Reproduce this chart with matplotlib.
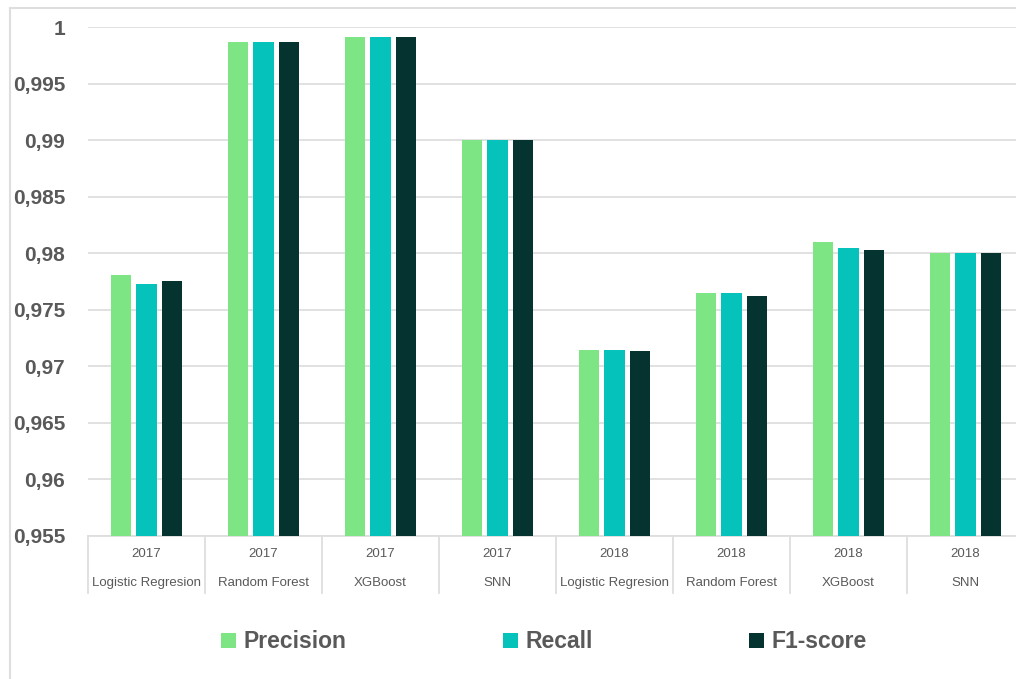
import numpy as np
import matplotlib
matplotlib.use("Agg")
from matplotlib import pyplot as plt
from matplotlib.patches import Rectangle, Patch
from matplotlib.lines import Line2D
from matplotlib.ticker import FuncFormatter

years = ["2017", "2017", "2017", "2017", "2018", "2018", "2018", "2018"]
models = ["Logistic Regresion", "Random Forest", "XGBoost", "SNN",
          "Logistic Regresion", "Random Forest", "XGBoost", "SNN"]
precision = [0.97805, 0.9987, 0.9991, 0.990, 0.97148, 0.97646, 0.98097, 0.980]
recall = [0.97726, 0.9987, 0.9991, 0.990, 0.97148, 0.97646, 0.98044, 0.980]
f1_score = [0.97758, 0.9987, 0.9991, 0.990, 0.97139, 0.97626, 0.98027, 0.980]
series_names = ["Precision", "Recall", "F1-score"]
colors = ["#7DE584", "#05C3BA", "#043330"]

GREY = "#595959"
LINE = "#DEDEDE"


def comma_fmt(v, pos):
    return f"{v:g}".replace(".", ",")


def main():
    fig = plt.figure(figsize=(10.16, 6.79), dpi=100)
    # outer chart border (cropped at right and bottom in the reference)
    fig.patches.append(Rectangle((9.5 / 1016, -0.1), 1.2, 1 - 8.5 / 679 + 0.1,
                                 transform=fig.transFigure, fill=False,
                                 edgecolor=LINE, lw=1.5))

    ax = fig.add_axes([88 / 1016, 1 - 536 / 679, (1024 - 88) / 1016, (536 - 27.3) / 679])

    x = np.arange(len(models))
    width = 0.171
    step = 0.222
    for i, (vals, name) in enumerate(zip([precision, recall, f1_score], series_names)):
        ax.bar(x + (i - 1) * step, vals, width, color=colors[i], label=name, zorder=3)

    ax.set_xlim(-0.5, len(models) - 0.5)
    ax.set_ylim(0.955, 1.0)
    ax.set_yticks(np.arange(0.955, 1.0001, 0.005))
    ax.yaxis.set_major_formatter(FuncFormatter(comma_fmt))
    ax.yaxis.grid(True, color=LINE, lw=1.3, zorder=0)
    ax.tick_params(axis="y", length=0, pad=16.5, labelcolor=GREY)
    for lab in ax.get_yticklabels():
        lab.set_fontfamily("Liberation Sans")
        lab.set_fontweight("bold")
        lab.set_fontsize(15)
    ax.set_xticks([])
    for s in ["top", "right", "left"]:
        ax.spines[s].set_visible(False)
    ax.spines["bottom"].set_color(LINE)
    ax.spines["bottom"].set_linewidth(1.3)

    # two-level category labels with separators
    sep_h = 57 / (536 - 27.3)
    for b in np.arange(-0.5, len(models), 1.0):
        ax.add_line(Line2D([b, b], [0, -sep_h], transform=ax.get_xaxis_transform(),
                           color=LINE, lw=1.3, clip_on=False))
    for xi, yr, m in zip(x, years, models):
        ax.annotate(yr, (xi, 0), xycoords=("data", "axes fraction"),
                    xytext=(0, -13), textcoords="offset points", ha="center", va="center",
                    fontsize=9.5, color=GREY, family="Liberation Sans")
        ax.annotate(m, (xi, 0), xycoords=("data", "axes fraction"),
                    xytext=(0, -34), textcoords="offset points", ha="center", va="center",
                    fontsize=9.5, color=GREY, family="Liberation Sans")

    handles = [Patch(facecolor=c, label=n) for c, n in zip(colors, series_names)]
    leg = fig.legend(handles=handles, loc="center", ncol=3,
                     bbox_to_anchor=(544 / 1016, 1 - 642 / 679), frameon=False,
                     prop={"family": "Liberation Sans", "weight": "bold", "size": 16.5},
                     handlelength=0.65, handleheight=0.65, handletextpad=0.35,
                     columnspacing=6.8)
    for t in leg.get_texts():
        t.set_color(GREY)

    fig.savefig("out.png", dpi=100)


if __name__ == '__main__':
    main()
